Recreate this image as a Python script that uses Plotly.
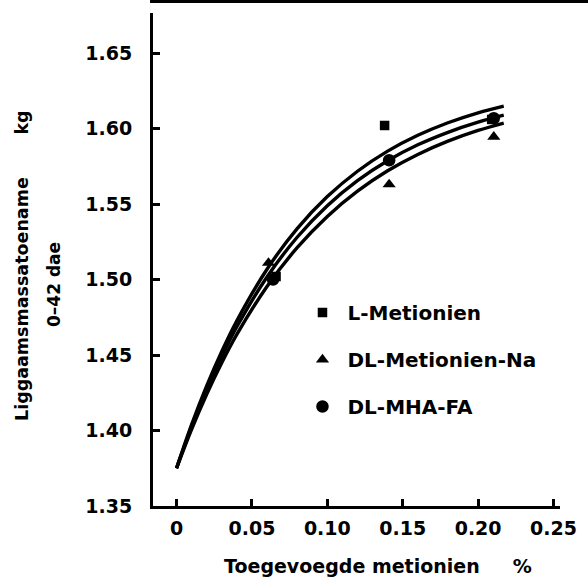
import plotly.graph_objects as go

# ---- data ----
curve_x = [0, 0.01, 0.02, 0.03, 0.04, 0.06, 0.08, 0.10, 0.12, 0.14, 0.16, 0.18, 0.20, 0.217]
curve_upper = [1.375, 1.4039, 1.4296, 1.4524, 1.4727, 1.5068, 1.5337, 1.5549, 1.5717, 1.5850, 1.5955, 1.6038, 1.6104, 1.6148]
curve_middle = [1.375, 1.4026, 1.4272, 1.4491, 1.4687, 1.5017, 1.5280, 1.5489, 1.5655, 1.5787, 1.5892, 1.5975, 1.6042, 1.6088]
curve_lower = [1.375, 1.4008, 1.4240, 1.4449, 1.4636, 1.4954, 1.5211, 1.5418, 1.5585, 1.5720, 1.5828, 1.5916, 1.5987, 1.6036]

l_met_x = [0.066, 0.138, 0.209]
l_met_y = [1.502, 1.602, 1.606]
dl_na_x = [0.061, 0.141, 0.2104]
dl_na_y = [1.511, 1.563, 1.5945]
mha_x = [0.064, 0.141, 0.2104]
mha_y = [1.500, 1.579, 1.6068]

series_names = ["L-Metionien", "DL-Metionien-Na", "DL-MHA-FA"]

y_tickvals = [1.35, 1.40, 1.45, 1.50, 1.55, 1.60, 1.65]
y_ticktext = ["1.35", "1.40", "1.45", "1.50", "1.55", "1.60", "1.65"]
x_tickvals = [0, 0.05, 0.10, 0.15, 0.20, 0.25]
x_ticktext = ["0", "0.05", "0.10", "0.15", "0.20", "0.25"]

FONT = "DejaVu Sans"

fig = go.Figure()

for cy in (curve_upper, curve_middle, curve_lower):
    fig.add_trace(go.Scatter(x=curve_x, y=cy, mode="lines",
                             line=dict(color="black", width=3.4, shape="spline"),
                             showlegend=False, hoverinfo="skip"))

fig.add_trace(go.Scatter(x=l_met_x, y=l_met_y, mode="markers", name=series_names[0],
                         legendgroup="a",
                         marker=dict(symbol="square", size=9.5, color="black")))
fig.add_trace(go.Scatter(x=dl_na_x, y=dl_na_y, mode="markers", name=series_names[1],
                         legendgroup="b",
                         marker=dict(symbol="triangle-up", size=11.5, color="black")))
fig.add_trace(go.Scatter(x=mha_x, y=mha_y, mode="markers", name=series_names[2],
                         legendgroup="c",
                         marker=dict(symbol="circle", size=12.5, color="black")))

fig.update_layout(
    width=588, height=582,
    margin=dict(l=153, r=28, t=13, b=76),
    paper_bgcolor="white", plot_bgcolor="white",
    font=dict(family=FONT, size=17, color="black", weight="bold"),
    legend=dict(x=0.355, y=0.432, xanchor="left", yanchor="top",
                bgcolor="rgba(0,0,0,0)", tracegroupgap=18, itemwidth=40,
                font=dict(family=FONT, size=20, color="black", weight="bold")),
    xaxis=dict(range=[-0.0156, 0.2543], tickvals=x_tickvals, ticktext=x_ticktext,
               showgrid=False, zeroline=False, showline=True, linecolor="black", linewidth=3,
               ticks="inside", ticklen=7, tickwidth=3, tickcolor="black",
               ticklabelstandoff=3,
               tickfont=dict(family=FONT, size=19, color="black", weight="bold")),
    yaxis=dict(range=[1.35, 1.6765], tickvals=y_tickvals, ticktext=y_ticktext,
               showgrid=False, zeroline=False, showline=True, linecolor="black", linewidth=3,
               ticks="inside", ticklen=7, tickwidth=3, tickcolor="black",
               ticklabelstandoff=14,
               tickfont=dict(family=FONT, size=19, color="black", weight="bold")),
    annotations=[
        dict(text="Liggaamsmassatoename" + "&nbsp;" * 7 + "kg", textangle=-90,
             xref="paper", yref="paper", x=(22 - 153) / 407, y=(506 - 266) / 493,
             xanchor="center", yanchor="middle", showarrow=False,
             font=dict(family=FONT, size=17.5, color="black", weight="bold")),
        dict(text="0\u201342 dae", textangle=-90,
             xref="paper", yref="paper", x=(54 - 153) / 407, y=(506 - 285) / 493,
             xanchor="center", yanchor="middle", showarrow=False,
             font=dict(family=FONT, size=17, color="black", weight="bold")),
        dict(text="Toegevoegde metionien" + "&nbsp;" * 5 + "%",
             xref="paper", yref="paper", x=(378 - 153) / 407, y=(506 - 566) / 493,
             xanchor="center", yanchor="middle", showarrow=False,
             font=dict(family=FONT, size=19, color="black", weight="bold")),
    ],
    shapes=[dict(type="line", xref="paper", yref="paper",
                 x0=(150 - 153) / 407, x1=(588 - 153) / 407,
                 y0=(506 - 1.5) / 493, y1=(506 - 1.5) / 493,
                 line=dict(color="black", width=3))],
)

fig.write_html("out.html", config={"displayModeBar": False},
               post_script="document.body.style.margin='0px';document.body.style.padding='0px';document.body.style.overflow='hidden';")
